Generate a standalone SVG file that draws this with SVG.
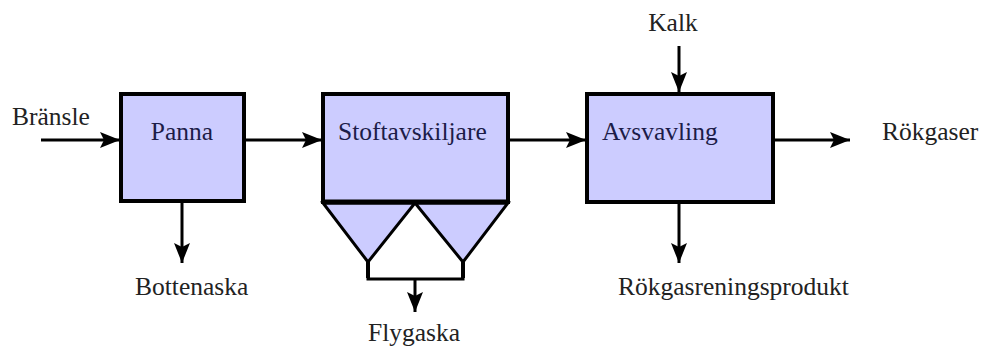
<svg xmlns="http://www.w3.org/2000/svg" width="985" height="349" viewBox="0 0 985 349">
<defs>
<marker id="ah" markerUnits="userSpaceOnUse" markerWidth="22" markerHeight="16" refX="20" refY="8" orient="auto">
<path d="M0,0 L20,8 L0,16 L4,8 z" fill="#000"/>
</marker>
<style>
.box{fill:#ccccff;stroke:#000;stroke-width:4}
.hop{fill:#ccccff;stroke:#000;stroke-width:3;stroke-linejoin:miter}
.in{font-family:"Liberation Serif",serif;font-size:25.5px;fill:#1c1c48}
.out{font-family:"Liberation Serif",serif;font-size:25.5px;fill:#222}
.ln{fill:none;stroke:#000;stroke-width:3}
.ar{fill:none;stroke:#000;stroke-width:3;marker-end:url(#ah)}
</style>
</defs>
<rect width="985" height="349" fill="#fff"/>
<g id="connectors">
<line class="ar" x1="41" y1="140" x2="120" y2="140"/>
<line class="ar" x1="244" y1="140" x2="322" y2="140"/>
<line class="ar" x1="508" y1="140" x2="586" y2="140"/>
<line class="ar" x1="773" y1="140" x2="850" y2="140"/>
<line class="ar" x1="679" y1="46" x2="679" y2="92"/>
<line class="ar" x1="182" y1="202" x2="182" y2="263"/>
<line class="ar" x1="679" y1="202" x2="679" y2="263"/>
<path class="ln" d="M368,262 V279 H463 V262" style="stroke-width:3"/>
<line class="ln" x1="368" y1="262" x2="368" y2="278" style="stroke-width:4"/>
<line class="ln" x1="463" y1="262" x2="463" y2="278" style="stroke-width:4"/>
<line class="ar" x1="415" y1="279" x2="415" y2="312"/>
</g>
<g id="panna">
<rect class="box" x="121" y="94" width="123" height="107"/>
<text class="in" x="182" y="140" text-anchor="middle">Panna</text>
</g>
<g id="stoftavskiljare">
<polygon class="hop" points="323,203 415,203 368,262"/>
<polygon class="hop" points="415,203 508,203 463,262"/>
<rect class="box" x="323" y="94" width="185" height="108"/>
<line x1="323" y1="202" x2="508" y2="202" stroke="#000" stroke-width="5"/>
<text class="in" x="338" y="140">Stoftavskiljare</text>
</g>
<g id="avsvavling">
<rect class="box" x="587" y="94" width="186" height="108"/>
<text class="in" x="602" y="140">Avsvavling</text>
</g>
<g id="labels">
<text class="out" x="12" y="125">Bränsle</text>
<text class="out" x="673" y="31" text-anchor="middle">Kalk</text>
<text class="out" x="882" y="140">Rökgaser</text>
<text class="out" x="135" y="295">Bottenaska</text>
<text class="out" x="618" y="295">Rökgasreningsprodukt</text>
<text class="out" x="368" y="341">Flygaska</text>
</g>
</svg>
